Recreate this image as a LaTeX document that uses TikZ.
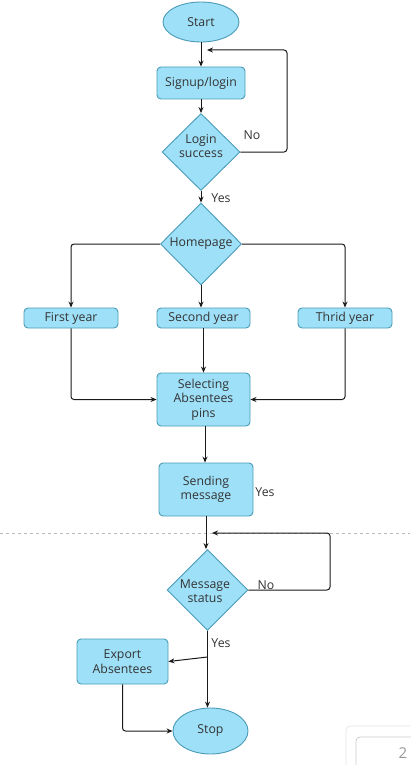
\documentclass[tikz,border=0pt]{standalone}
\usepackage{fontspec}
\setmainfont{Open Sans}
\usetikzlibrary{shapes.geometric,arrows.meta}
\definecolor{boxfill}{HTML}{9EE0F7}
\definecolor{boxline}{HTML}{4A9BB8}
\definecolor{txt}{HTML}{333333}
\definecolor{conn}{HTML}{1A1A1A}
\tikzset{
  every node/.style={font=\fontsize{12.3}{14.5}\selectfont, text=txt},
  procbox/.style={draw=boxline, fill=boxfill, line width=0.9pt, rounded corners=4pt, align=center, inner sep=0pt},
  termbox/.style={ellipse, draw=boxline, fill=boxfill, line width=0.9pt, inner sep=0pt},
  decbox/.style={diamond, draw=boxline, fill=boxfill, line width=0.9pt, inner sep=0pt, aspect=1},
  conn/.style={draw=conn, line width=1pt, rounded corners=3pt, -{Stealth[length=6pt,width=5pt]}},
  lbl/.style={inner sep=0pt}
}
\begin{document}
\begin{tikzpicture}[x=1pt,y=-1pt]
\useasboundingbox (0,0) rectangle (410,765);
\fill[white] (0,0) rectangle (410,765);
% dashed separator
\draw[gray!55, dashed, line width=0.6pt] (0,533) -- (410,533);
% nodes
\node[termbox, minimum width=76pt, minimum height=40pt] (start) at (201,22) {Start};
\node[procbox, minimum width=88pt, minimum height=32pt] (signup) at (201,83) {\raisebox{-2pt}{Signup/login}};
\node[decbox, minimum width=78pt, minimum height=77pt] (login) at (201,152) {};
\node[align=center, lbl] (logintxt) at (201,146) {Login\\success};
\node[decbox, minimum width=81pt, minimum height=82pt] (home) at (201,244) {};
\node[lbl] (hometxt) at (201,244) {Homepage};
\node[procbox, minimum width=94pt, minimum height=20pt] (first) at (71,318) {\raisebox{-1pt}{First year}};
\node[procbox, minimum width=93pt, minimum height=20pt] (second) at (203.5,318) {Second year};
\node[procbox, minimum width=94pt, minimum height=20pt] (third) at (345,318) {Thrid year};
\node[procbox, minimum width=93pt, minimum height=53pt] (select) at (203.5,399.5) {Selecting\\Absentees\\pins};
\node[procbox, minimum width=94pt, minimum height=53pt] (send) at (206,489.5) {Sending\\message};
\node[decbox, minimum width=81pt, minimum height=81pt] (msg) at (207.5,590) {};
\node[align=center, lbl] (msgtxt) at (205,591) {Message\\status};
\node[procbox, minimum width=91pt, minimum height=45pt] (export) at (122.5,661.5) {Export\\Absentees};
\node[termbox, minimum width=75pt, minimum height=46pt] (stop) at (210.5,731) {Stop};
% labels
\node[lbl] (lno1) at (252,135) {No};
\node[lbl] (lyes1) at (221,198) {Yes};
\node[lbl] (lyes2) at (265,492) {Yes};
\node[lbl] (lno2) at (266,585) {No};
\node[lbl] (lyes3) at (221,643) {Yes};
% coordinates
\coordinate (loopin1) at (207,50);
\coordinate (loopin2) at (212,533);
\coordinate (branch) at (207.5,657);
% connectors
\draw[conn] (start.south) -- (start.south |- signup.north);
\draw[conn] (signup.south) -- (login.north);
\draw[conn] (login.east) -- (287,152) |- (loopin1);
\draw[conn] (login.south) -- (home.north);
\draw[conn] (home.west) -| (first.north);
\draw[conn] (home.east) -| (third.north);
\draw[conn] (home.south) -- (home.south |- second.north);
\draw[conn] (first.south) |- (select.west);
\draw[conn] (third.south) |- (select.east);
\draw[conn] (second.south) -- (select.north);
\draw[conn] ([xshift=1.5pt]select.south) -- ([xshift=1.5pt]select.south |- send.north);
\draw[conn] (send.south) -- (send.south |- msg.north);
\draw[conn] (msg.east) -- (330,590) |- (loopin2);
\draw[conn] (msg.south) -- (msg.south |- stop.north);
\draw[conn] (branch) -- (export.east);
\draw[conn] (export.south) |- (stop.west);
% UI artefact bottom right
\draw[gray!18, line width=0.8pt, rounded corners=4pt] (346,780) -- (346,726) -- (420,726);
\draw[gray!40, line width=0.8pt, rounded corners=4pt] (356,780) -- (356,737) -- (420,737);
\node[font=\fontsize{15}{18}\selectfont, text=gray!80, lbl] (pagenum) at (403,753) {2};
\end{tikzpicture}
\end{document}
